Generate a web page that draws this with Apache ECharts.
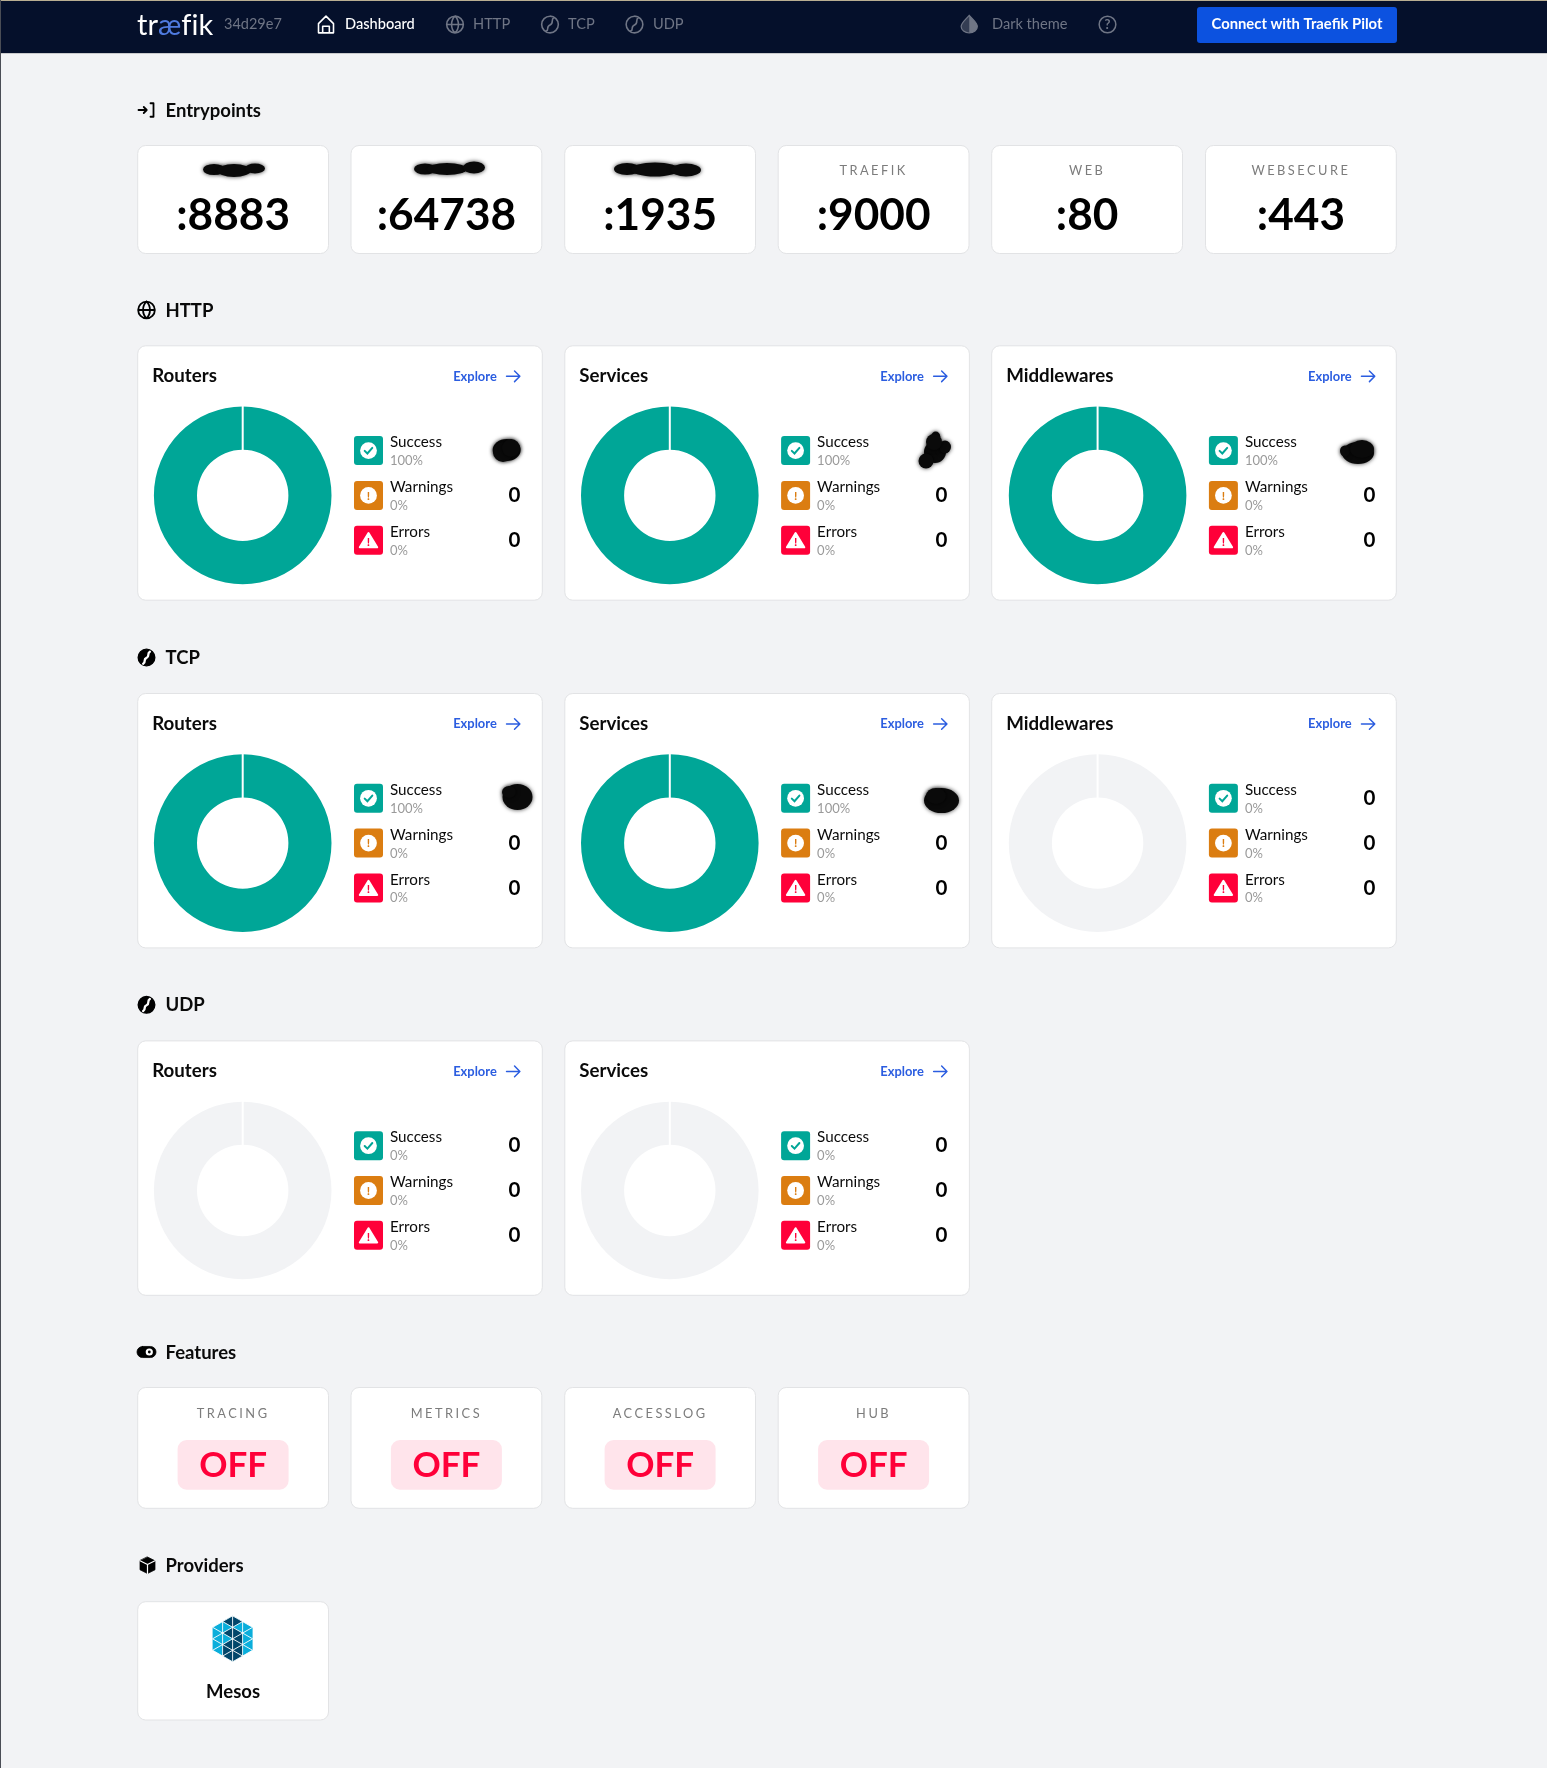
<!DOCTYPE html>
<html><head><meta charset="utf-8"><title>Traefik dashboard</title>
<style>html,body{margin:0;padding:0;background:#f2f3f5}#c{width:1547px;height:1768px}</style>
<script src="https://cdn.jsdelivr.net/npm/echarts@6/dist/echarts.min.js"></script>
</head><body><div id="c"></div>
<script>
// ---- data ----
const navItems = ['Dashboard', 'HTTP', 'TCP', 'UDP'];
const versionLabel = '34d29e7';
const entrypointNames = ['', '', '', 'TRAEFIK', 'WEB', 'WEBSECURE'];
const entrypointPorts = [':8883', ':64738', ':1935', ':9000', ':80', ':443'];
const statusNames = ['Success', 'Warnings', 'Errors'];
// [success, warnings, errors]; the non-zero success counts are scribbled out in the picture
const httpRouters = [8, 0, 0];
const httpServices = [8, 0, 0];
const httpMiddlewares = [8, 0, 0];
const tcpRouters = [3, 0, 0];
const tcpServices = [3, 0, 0];
const tcpMiddlewares = [0, 0, 0];
const udpRouters = [0, 0, 0];
const udpServices = [0, 0, 0];
const featureNames = ['TRACING', 'METRICS', 'ACCESSLOG', 'HUB'];
const featureStates = ['OFF', 'OFF', 'OFF', 'OFF'];
const providerNames = ['Mesos'];

// ---- styling ----
const FONT = 'Lato, "Noto Sans", sans-serif';
const C = {bg:'#f2f3f5', nav:'#05102b', navDim:'#6f7585', border:'#e2e3e5', teal:'#00a697', orange:'#db7d11', red:'#ff0039', blue:'#0c52e0', link:'#2b5de0', sub:'#9a9a9a', label:'#7c7c7c', empty:'#f2f3f5'};
const spaced = new Set(entrypointNames.concat(featureNames).filter(Boolean));
const origFill = CanvasRenderingContext2D.prototype.fillText;
CanvasRenderingContext2D.prototype.fillText = function (t, x, y, m) {
  const on = spaced.has(t);
  if (on) this.letterSpacing = '2.5px';
  m === undefined ? origFill.call(this, t, x, y) : origFill.call(this, t, x, y, m);
  if (on) this.letterSpacing = '0px';
};

const G = [];
function rect(x, y, w, h, fill, r, stroke, z) {
  G.push({type:'rect', z:z === undefined ? -1 : z, silent:true, shape:{x, y, width:w, height:h, r:r || 0},
    style:{fill, stroke:stroke || null, lineWidth:stroke ? 1 : 0}});
}
function text(s, x, y, size, weight, fill, align) {
  G.push({type:'text', z:10, silent:true, style:{text:s, x, y, fill, font:`${weight} ${size}px ${FONT}`, textAlign:align || 'left', textVerticalAlign:'middle'}});
}
const shapeNames = new Map();
function shapeType(d) {
  if (!shapeNames.has(d)) {
    const name = 'svgIcon' + shapeNames.size;
    echarts.graphic.registerShape(name, echarts.graphic.extendPath(d));
    shapeNames.set(d, name);
  }
  return shapeNames.get(d);
}
function icon(d, x, y, size, stroke, fill, lw, z) {
  const s = size / 24;
  G.push({type:shapeType(d), z:z || 10, silent:true, x, y, scaleX:s, scaleY:s, shape:{},
    style:{stroke:stroke || null, fill:fill || null, lineWidth:lw || 2, lineCap:'round', lineJoin:'round'}});
}
function blob(x, y, rx, ry) {
  G.push({type:'circle', z:10, silent:true, x, y, scaleX:rx, scaleY:ry, shape:{cx:0, cy:0, r:1},
    style:{fill:'#0a0a0a', shadowBlur:4, shadowColor:'rgba(0,0,0,.75)'}});
}
const P = {
  globe:'M12 2A10 10 0 1 0 12 22A10 10 0 1 0 12 2Z M2 12H22 M12 2C6.5 7 6.5 17 12 22 M12 2C17.5 7 17.5 17 12 22',
  ball:'M12 2A10 10 0 1 0 12 22A10 10 0 1 0 12 2Z M17 3.5C12 6.5 17.5 10 12 12.5C6.5 15 12 18 7 20.5',
  curve:'M16 5C12 7.5 16.5 10.5 12 12.5C7.5 14.5 12 17 8 19.5',
  circ:'M12 2A10 10 0 1 0 12 22A10 10 0 1 0 12 2Z',
  house:'M3 11L12 2L21 11V22H3Z M8 22V14H16V22',
  drop:'M12 1C7 7 1.5 11 1.5 15.5A10.5 8.5 0 0 0 22.5 15.5C22.5 11 17 7 12 1Z',
  dropHalf:'M12 1C17 7 22.5 11 22.5 15.5A10.5 8.5 0 0 1 12 24Z',
  entry:'M2 12H13 M9 8L13 12L9 16 M18 3H22V21H18',
  arrow:'M2 12H22 M14 4L22 12L14 20',
  pill:'M7 5H17A7 7 0 0 1 17 19H7A7 7 0 0 1 7 5Z',
  cube:'M12 1L22 6V18L12 23L2 18V6Z',
  cubeLines:'M2 6L12 11L22 6 M12 11V23',
  tri:'M12 3L23 21H1Z'
};

// ---- page frame and nav bar ----
rect(0, 0, 1547, 53.5, C.nav, 0, null, 1);
rect(0, 0, 1547, 1, '#b9ae92', 0, null, 2);
rect(0, 53, 1547, 1, '#c9cacc', 0, null, 2);
rect(0, 0, 1, 1768, '#4a4d55', 0, null, 3);
G.push({type:'text', z:10, silent:true, style:{x:137, y:26, textVerticalAlign:'middle', text:'{a|tr}{b|æ}{a|f}{a|ik}',
  rich:{a:{fill:'#fff', font:`400 29px ${FONT}`}, b:{fill:'#4f7be0', font:`400 29px ${FONT}`}}}});
text(versionLabel, 224, 24.5, 14.5, 400, C.navDim);
const navX = [345, 473, 568, 653], navIconX = [316, 445, 540, 624.5], navIcon = [P.house, P.globe, P.ball, P.ball];
navItems.forEach((n, i) => {
  const col = i === 0 ? '#ffffff' : C.navDim;
  icon(navIcon[i], navIconX[i], 14.5, 20, col, null, 1.9);
  text(n, navX[i], 24.5, 14.6, i === 0 ? 500 : 400, col);
});
icon(P.drop, 960, 14.5, 18.5, C.navDim, 'rgba(111,117,133,.45)', 1.6);
icon(P.dropHalf, 960, 14.5, 18.5, null, C.navDim);
text('Dark theme', 992, 24.5, 14.6, 400, C.navDim);
icon(P.circ, 1097.5, 14.5, 20, C.navDim, null, 1.8);
text('?', 1107.5, 25, 13, 700, C.navDim, 'center');
rect(1197, 7, 200, 36, C.blue, 3, null, 4);
text('Connect with Traefik Pilot', 1297, 24.5, 14.8, 700, '#ffffff', 'center');

// ---- section headings ----
function heading(title, y, draw) { draw(y); text(title, 165.5, y + 0.7, 18.5, 700, '#0a0a0a'); }
const ballHead = y => { icon(P.circ, 136.5, y - 10, 20, '#000', '#000', 1.6); icon(P.curve, 136.5, y - 10, 20, '#fff', null, 2.8, 11); };
heading('Entrypoints', 110, y => icon(P.entry, 137, y - 9, 18, '#000', null, 2.4));
heading('HTTP', 310, y => icon(P.globe, 136.5, y - 10, 20, '#000', null, 2.2));
heading('TCP', 657.5, ballHead);
heading('UDP', 1004.8, ballHead);
heading('Features', 1352, y => {
  icon(P.pill, 137, y - 9.5, 19, '#000', '#000', 1);
  G.push({type:'circle', z:11, silent:true, shape:{cx:149.3, cy:y, r:3.6}, style:{fill:'#fff'}});
  G.push({type:'circle', z:12, silent:true, shape:{cx:149.3, cy:y, r:1.4}, style:{fill:'#000'}});
});
heading('Providers', 1565.8, y => {
  icon(P.cube, 138.5, y - 9.5, 18, '#000', '#000', 1);
  icon(P.cubeLines, 138.5, y - 9.5, 18, '#fff', null, 1.6, 11);
});

// ---- small cards ----
const smallX = [137.7, 351, 564.7, 778.2, 991.7, 1205.5], smallW = 190.8;
entrypointPorts.forEach((p, i) => {
  rect(smallX[i], 145.5, smallW, 108, '#fff', 8, C.border);
  if (entrypointNames[i]) text(entrypointNames[i], smallX[i] + smallW / 2, 170.5, 12.8, 400, C.label, 'center');
  text(p, smallX[i] + smallW / 2, 215.8, 44.2, 700, '#000', 'center');
});
blob(214, 169.5, 11, 5.5); blob(234, 170.5, 17, 6.5); blob(255, 168.5, 10, 5);
blob(425, 169, 11, 5.5); blob(447, 169, 20, 6); blob(474, 167.5, 11, 6);
blob(627, 169, 13, 6); blob(655, 169.5, 24, 7); blob(686, 170, 15, 6.5);

featureNames.forEach((n, i) => {
  const x = smallX[i], cx = x + smallW / 2;
  rect(x, 1387.5, smallW, 120.8, '#fff', 8, C.border);
  text(n, cx, 1413.4, 12.8, 400, C.label, 'center');
  rect(cx - 55.5, 1440, 111, 49.7, '#ffe4eb', 9, null, 2);
  text(featureStates[i], cx, 1466, 35, 700, C.red, 'center');
});

providerNames.forEach((n, i) => {
  const x = smallX[i], cx = x + smallW / 2;
  rect(x, 1601.7, smallW, 118.3, '#fff', 8, C.border);
  text(n, cx, 1692, 18.5, 700, '#0a0a0a', 'center');
  const ox = cx - 0.5, oy = 1638.8, H = 23, W = 20, k = 0.575;
  G.push({type:'polygon', z:10, silent:true, shape:{points:[[ox, oy - H], [ox + W, oy - H / 2], [ox + W, oy + H / 2], [ox, oy + H], [ox - W, oy + H / 2], [ox - W, oy - H / 2]]}, style:{fill:'#0aaedb'}});
  [[[0, -23], [10, -17.25], [0, -11.5], [-10, -17.25]],
   [[-10, -5.75], [0, -11.5], [10, -5.75], [10, 5.75], [10, 17.25], [0, 23], [-10, 17.25], [-10, 5.75], [0, 0]]].forEach(poly =>
    G.push({type:'polygon', z:10, silent:true, shape:{points:poly.map(q => [ox + q[0], oy + q[1]])}, style:{fill:'#01466a'}}));
  const inHex = (a, b) => Math.abs(a) <= W && Math.abs(b) <= H - k * Math.abs(a) + 0.01;
  const seg = (f) => { let a = null, b = null; for (let t = -W; t <= W + 1e-6; t += 0.25) { const y = f(t); if (inHex(t, y)) { if (a === null) a = t; b = t; } }
    if (a !== null && b > a) G.push({type:'line', z:11, silent:true, shape:{x1:ox + a, y1:oy + f(a), x2:ox + b, y2:oy + f(b)}, style:{stroke:'#fff', lineWidth:0.9}}); };
  [-23, -11.5, 0, 11.5, 23].forEach(c => { seg(t => k * t + c); seg(t => -k * t + c); });
  [-10, 0, 10].forEach(v => { const h = H - k * Math.abs(v);
    G.push({type:'line', z:11, silent:true, shape:{x1:ox + v, y1:oy - h, x2:ox + v, y2:oy + h}, style:{stroke:'#fff', lineWidth:0.9}}); });
});

// ---- donut panels ----
const panelX = [137.7, 564.8, 991.7], panelW = 404.6, panelH = 254.4;
const rowTop = {http:345.8, tcp:693.5, udp:1040.9};
const statusColors = [C.teal, C.orange, C.red];
const panels = [
  ['Routers', httpRouters, 0, rowTop.http], ['Services', httpServices, 1, rowTop.http], ['Middlewares', httpMiddlewares, 2, rowTop.http],
  ['Routers', tcpRouters, 0, rowTop.tcp], ['Services', tcpServices, 1, rowTop.tcp], ['Middlewares', tcpMiddlewares, 2, rowTop.tcp],
  ['Routers', udpRouters, 0, rowTop.udp], ['Services', udpServices, 1, rowTop.udp]
];
const series = [];
panels.forEach(([title, vals, col, T]) => {
  const CL = panelX[col], L = CL + (col === 2 ? 0.9 : 0), total = vals[0] + vals[1] + vals[2];
  rect(CL, T, panelW, panelH, '#fff', 8, C.border);
  text(title, CL + 14.5, T + 30.2, 18.7, 700, '#0a0a0a');
  text('Explore', L + 315.5, T + 30.7, 12.9, 700, C.link);
  icon(P.arrow, L + 367.5, T + 22.5, 16, C.link, null, 2.2);
  const cx = L + 105, cy = T + 149.6;
  // slices with no count are left out, so a panel with nothing to show gets the pale empty ring
  series.push({type:'pie', z:2, silent:true, animation:false, center:[cx, cy], radius:[45.7, 88.8], startAngle:90,
    label:{show:false}, labelLine:{show:false}, showEmptyCircle:true, emptyCircleStyle:{color:C.empty, opacity:1},
    data:vals.map((v, i) => ({name:statusNames[i], value:v, itemStyle:{color:statusColors[i]}})).filter(d => d.value > 0)});
  G.push({type:'rect', z:5, silent:true, shape:{x:cx - 1, y:cy - 90, width:2, height:45}, style:{fill:'#fff'}});
  statusNames.forEach((name, i) => {
    const tx = L + 216.3, ty = T + 90.3 + i * 44.8;
    rect(tx, ty, 29, 29, statusColors[i], 3, null, 2);
    if (i === 2) {
      icon(P.tri, tx + 5, ty + 5, 19, '#fff', '#fff', 2.5);
      text('!', tx + 14.5, ty + 16, 12, 700, C.red, 'center');
    } else {
      G.push({type:'circle', z:10, silent:true, shape:{cx:tx + 14.5, cy:ty + 14.5, r:8.4}, style:{fill:'#fff'}});
      if (i === 0) G.push({type:'polyline', z:11, silent:true, shape:{points:[[tx + 10.7, ty + 14.8], [tx + 13.4, ty + 17.4], [tx + 18.3, ty + 11.8]]}, style:{stroke:C.teal, lineWidth:2, fill:null, lineCap:'round'}});
      else text('!', tx + 14.5, ty + 15, 12, 700, C.orange, 'center');
    }
    text(name, L + 252.3, ty + 6.4, 15.2, 400, '#0a0a0a');
    text(Math.round(total ? vals[i] / total * 100 : 0) + '%', L + 252.3, ty + 24.8, 13, 400, C.sub);
    if (!(i === 0 && vals[i] > 0)) text(String(vals[i]), L + 382.7, ty + 14.6, 20.5, 700, '#000', 'right');
  });
});
// scribbles covering the hidden success counts
blob(506.7, 450, 14, 11); blob(503, 452, 10, 10); blob(511, 448, 9, 9);
blob(935, 452, 11, 11); blob(935.7, 436.5, 4.5, 5); blob(945, 447, 6, 6.5); blob(926, 461, 7.5, 7.5); blob(934, 442, 8, 8);
blob(1358, 453, 16, 11); blob(1345, 451, 5, 5.5); blob(1362, 449, 12, 9);
blob(517.5, 797, 15, 13); blob(509, 792, 7, 6);
blob(941.5, 800.6, 17.5, 12.5); blob(936, 796, 10, 8);

echarts.init(document.getElementById('c'), null, {renderer:'canvas', width:1547, height:1768}).setOption({
  backgroundColor:C.bg, animation:false, series, graphic:{elements:G}
});
</script></body></html>
